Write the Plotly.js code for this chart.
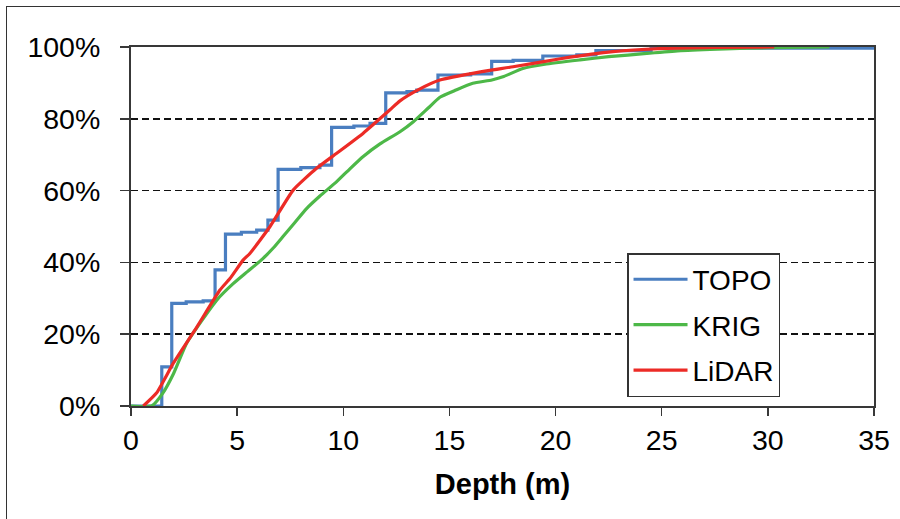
<!DOCTYPE html>
<html>
<head>
<meta charset="utf-8">
<script src="https://cdn.plot.ly/plotly-3.0.1.min.js"></script>
<style>
html,body{margin:0;padding:0;background:#fff;}
#frame{position:absolute;left:6px;top:6px;width:1000px;height:600px;border-top:1.5px solid #333;border-left:1.5px solid #333;}
#chart{position:absolute;left:0;top:0;width:900px;height:519px;}
</style>
</head>
<body>
<div id="frame"></div>
<div id="chart"></div>
<script>
// TOPO (step curve)
const topoDepth = [0, 1.45, 1.92, 2.6, 3.4, 3.96, 4.45, 5.2, 5.92, 6.45, 6.93, 8.0, 8.9, 9.45, 10.5, 11.26, 12.0, 13.0, 13.46, 14.46, 16.0, 16.99, 18.0, 19.4, 21.0, 21.9, 24.5, 35];
const topoCum   = [0, 10.9, 28.6, 29.0, 29.3, 37.9, 47.9, 48.4, 49.0, 51.8, 65.9, 66.4, 67.1, 77.6, 78.0, 78.7, 87.2, 87.6, 88.0, 92.2, 92.5, 96.0, 96.3, 97.5, 97.8, 99.0, 99.7, 100];
// KRIG
const krigDepth = [0, 0.97, 1.5, 2.0, 2.62, 3.3, 4.04, 4.8, 5.5, 6.2, 6.7, 7.2, 7.7, 8.27, 8.9, 9.69, 10.3, 10.94, 11.73, 12.67, 13.3, 14.0, 14.55, 15.3, 16.1, 17.0, 17.52, 18.46, 19.5, 21.15, 22.5, 24.3, 25.9, 28.0, 30.0, 32.9];
const krigCum   = [0, 0, 3.6, 9.0, 17.5, 23.5, 29.5, 34.0, 37.5, 41.0, 44.0, 47.5, 51.0, 55.0, 58.5, 62.5, 66.0, 69.5, 73.0, 76.4, 79.2, 83.0, 86.0, 88.0, 89.9, 90.8, 91.7, 94.0, 95.2, 96.4, 97.3, 98.2, 99.0, 99.5, 99.8, 100];
// LiDAR
const lidarDepth = [0.58, 1.2, 2.0, 3.1, 4.19, 4.66, 5.29, 5.6, 6.55, 7.65, 8.74, 9.69, 10.94, 12.2, 12.67, 13.5, 14.55, 16.4, 18.0, 20.3, 22.7, 25.06, 27.5, 30.3];
const lidarCum   = [0, 3.6, 12.0, 22.0, 32.3, 35.5, 40.7, 42.5, 50.0, 60.2, 66.2, 70.4, 76.0, 82.5, 85.0, 88.0, 90.8, 93.0, 94.5, 96.8, 98.7, 99.6, 99.9, 100];

const xTicks = [0, 5, 10, 15, 20, 25, 30, 35];
const yTicks = [0, 20, 40, 60, 80, 100];
const yTickText = yTicks.map(v => v + '%');

const seriesNames = ['TOPO', 'KRIG', 'LiDAR'];
const colors = ['#4a7ec0', '#4db848', '#ec2b26'];

const traces = [
  {x: topoDepth, y: topoCum, name: seriesNames[0], legendgroup: 'a', mode: 'lines', line: {color: colors[0], width: 3.2, shape: 'hv'}},
  {x: krigDepth, y: krigCum, name: seriesNames[1], legendgroup: 'b', mode: 'lines', line: {color: colors[1], width: 3.2, shape: 'spline', smoothing: 0.5}},
  {x: lidarDepth, y: lidarCum, name: seriesNames[2], legendgroup: 'c', mode: 'lines', line: {color: colors[2], width: 3.2, shape: 'spline', smoothing: 0.5}}
];

const font = {family: 'Liberation Sans, Arial, sans-serif', color: '#000'};

const layout = {
  width: 900, height: 519,
  margin: {l: 131, r: 26, t: 47, b: 113},
  paper_bgcolor: 'rgba(0,0,0,0)',
  plot_bgcolor: '#fff',
  showlegend: true,
  legend: {
    x: 0.6676, y: 0.426, xanchor: 'left', yanchor: 'top',
    bgcolor: '#fff', bordercolor: '#333', borderwidth: 1.5,
    font: Object.assign({}, font, {size: 28}),
    traceorder: 'grouped', tracegroupgap: 6, itemwidth: 54
  },
  xaxis: {
    range: [0, 35], tickvals: xTicks, ticktext: xTicks.map(String),
    showgrid: false, zeroline: false,
    showline: true, linecolor: '#383838', linewidth: 2, mirror: true,
    ticks: 'outside', ticklen: 8, tickcolor: '#383838', tickwidth: 1.5,
    tickfont: Object.assign({}, font, {size: 28.5}),
    title: {text: '<b>Depth (m)</b>', font: Object.assign({}, font, {size: 29}), standoff: 18}
  },
  yaxis: {
    range: [0, 100], tickvals: yTicks, ticktext: yTickText,
    showgrid: true, gridcolor: '#111', griddash: '7px,4px', gridwidth: 1.5,
    zeroline: false,
    showline: true, linecolor: '#383838', linewidth: 2, mirror: true,
    ticks: 'outside', ticklen: 9, tickcolor: '#383838', tickwidth: 1.5,
    ticklabelstandoff: 14,
    tickfont: Object.assign({}, font, {size: 28.5})
  }
};

Plotly.newPlot('chart', traces, layout, {displayModeBar: false, staticPlot: true});
</script>
</body>
</html>
